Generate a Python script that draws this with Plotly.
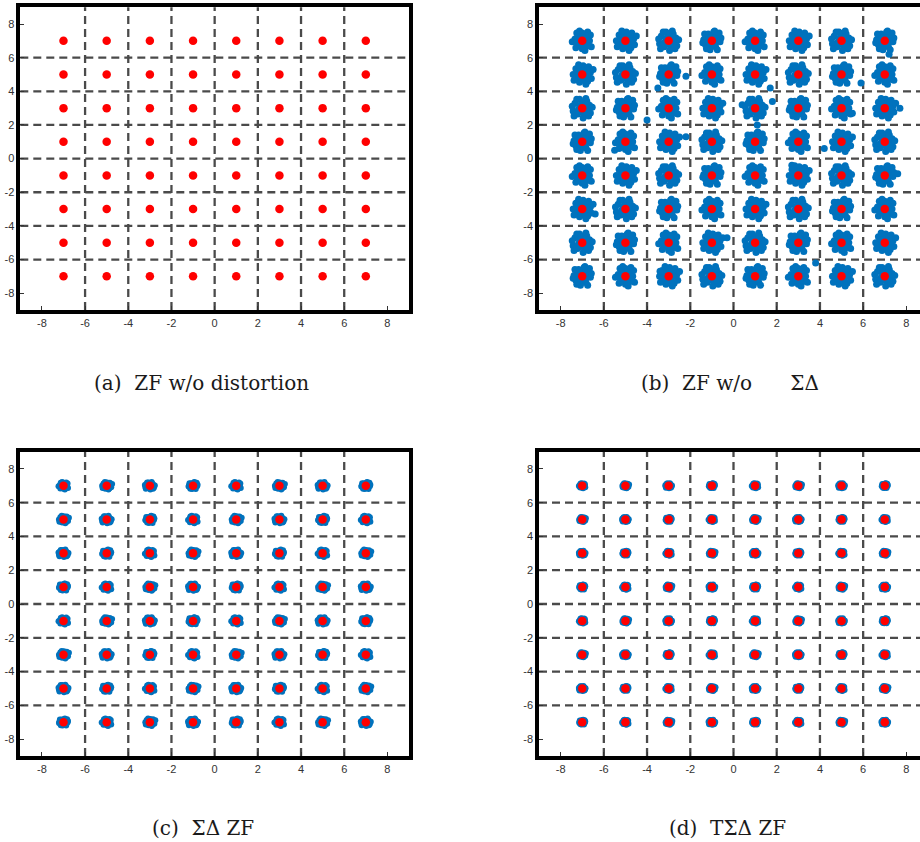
import plotly.graph_objects as go

# constellation levels (64-QAM)
levels = [-7, -5, -3, -1, 1, 3, 5, 7]
tick_vals = [-8, -6, -4, -2, 0, 2, 4, 6, 8]
tick_text = ["-8", "-6", "-4", "-2", "0", "2", "4", "6", "8"]
grid_vals = [-6, -4, -2, 0, 2, 4, 6]

NB = "\u00a0"
captions = ["(a)" + NB * 2 + "ZF w/o distortion",
            "(b)" + NB * 2 + "ZF w/o" + NB * 6 + "ΣΔ",
            "(c)" + NB * 2 + "ΣΔ ZF",
            "(d)" + NB * 2 + "TΣΔ ZF"]

# hand-read cloud shapes (normalised offsets around each symbol)
cloud_p0 = [(0, 0), (0.5, 0.1), (-0.5, 0.2), (0.1, 0.5), (-0.1, -0.5), (0.7, 0.5), (-0.7, -0.4),
            (0.4, -0.6), (-0.4, 0.7), (0.9, -0.1), (-0.9, 0.1), (0.2, 0.9), (-0.2, -0.9), (0.6, -0.9),
            (-0.8, 0.7), (0.8, 0.8), (-0.6, -0.8), (1.0, 0.3), (-1.0, -0.2), (0.3, 1.0),
            (-0.3, -0.2), (0.3, 0.3), (-0.3, 0.3), (0.3, -0.3)]
cloud_p1 = [(0.1, 0.1), (0.6, -0.1), (-0.4, -0.1), (0, 0.6), (0.2, -0.5), (0.8, 0.3), (-0.8, 0.5),
            (0.5, 0.7), (-0.5, -0.6), (0.9, -0.5), (-1.0, -0.3), (-0.3, 0.9), (0.1, -1.0), (1.1, 0.1),
            (-0.6, 0.9), (0.7, -0.8), (-0.9, -0.8), (0.4, 1.0), (-1.1, 0.2), (0.3, -0.3),
            (-0.2, 0.3), (0.4, 0.4), (-0.4, -0.4), (0.5, -0.4)]
cloud_p2 = [(-0.1, 0.1), (0.4, 0.3), (-0.6, -0.2), (0.3, -0.4), (-0.2, 0.6), (0.9, 0.2), (-0.7, 0.6),
            (0.6, -0.7), (-0.3, -0.8), (0.1, 0.9), (1.0, -0.4), (-1.0, 0.0), (0.7, 0.8), (-0.5, -0.5),
            (0.0, -0.6), (-0.9, -0.6), (0.4, -1.0), (-0.4, 1.0), (1.2, 0.5), (0.5, 0.5),
            (-0.5, 0.3), (0.2, 0.2), (-0.2, -0.3), (0.6, 0.0)]
cloud_p3 = [(0, -0.1), (0.5, 0.4), (-0.4, 0.4), (0.4, -0.3), (-0.5, -0.3), (0.8, 0.0), (-0.8, 0.2),
            (0.0, 0.8), (0.0, -0.8), (0.6, 0.9), (-0.7, -0.7), (1.0, -0.6), (-0.3, 1.0), (0.3, -1.0),
            (-1.1, -0.1), (0.9, 0.6), (-0.6, 0.8), (0.7, -0.5), (-0.2, -0.4), (0.2, 0.3),
            (-0.3, 0.1), (0.3, 0.6), (-0.6, -0.1), (0.2, -0.6)]
cloud_shapes = [cloud_p0, cloud_p1, cloud_p2, cloud_p3]

# spread of the blue cloud per panel, x and y (a has no cloud)
cloud_spread_x = [0.0, 0.42, 0.21, 0.14]
cloud_spread_y = [0.0, 0.58, 0.22, 0.15]

# stray points
outliers_b_x = [-5.5, -2.2, -3.5, -4.0, 1.7, 1.1, 5.5, 5.9, 7.2, 4.2, 2.7, -6.4, -3.4, -0.3, 3.8, 7.6,
                -2.2, 1.8, 0.4, 7.7]
outliers_b_y = [0.5, 1.3, 4.2, 2.3, 4.2, 2.0, 2.7, 4.5, 6.2, 0.6, -0.4, -3.3, -6.7, -4.7, -6.2, -0.9,
                4.9, 3.4, 3.2, 3.0]

fig = go.Figure()

W, H = 920, 842
panel_x = [(20.3, 409.0), (539.0, 920.0), (20.3, 409.0), (539.0, 920.0)]
panel_y = [(7.2, 310.0), (7.2, 310.0), (452.0, 756.0), (452.0, 756.0)]
x_ranges = [[-9, 9], [-9, 8.63], [-9, 9], [-9, 8.63]]
cap_pos = [(201, 383), (730, 383), (203, 828), (727, 828)]

for k in range(4):
    xa = "x" if k == 0 else f"x{k+1}"
    ya = "y" if k == 0 else f"y{k+1}"
    sx = cloud_spread_x[k]
    sy = cloud_spread_y[k]
    if sx > 0:
        cx, cy = [], []
        for i, lx in enumerate(levels):
            for j, ly in enumerate(levels):
                shp = cloud_shapes[(i * 3 + j) % 4]
                for dx, dy in shp:
                    cx.append(lx + sx * dx)
                    cy.append(ly + sy * dy)
        if k == 1:
            cx += outliers_b_x
            cy += outliers_b_y
        fig.add_trace(go.Scatter(x=cx, y=cy, mode="markers", xaxis=xa, yaxis=ya,
                                 marker=dict(color="#0072BD", size=7 if k == 1 else 6,
                                             line=dict(width=0)),
                                 hoverinfo="skip", showlegend=False))
    rx, ry = [], []
    for lx in levels:
        for ly in levels:
            rx.append(lx)
            ry.append(ly)
    fig.add_trace(go.Scatter(x=rx, y=ry, mode="markers", xaxis=xa, yaxis=ya,
                             marker=dict(color="#FF0000", size=8.5, line=dict(width=0)),
                             showlegend=False))

    axis_common = dict(showgrid=False, zeroline=False, showline=True, linewidth=3.5,
                       linecolor="black", ticks="inside", ticklen=4, tickwidth=1,
                       tickcolor="#333333", tickvals=tick_vals, ticktext=tick_text,
                       tickfont=dict(family="Liberation Sans, Arial", size=11, color="#333333"),
                       automargin=False, fixedrange=True)
    x0, x1 = panel_x[k]
    y0, y1 = panel_y[k]
    xkey = "xaxis" if k == 0 else f"xaxis{k+1}"
    ykey = "yaxis" if k == 0 else f"yaxis{k+1}"
    fig.update_layout(**{
        xkey: dict(axis_common, domain=[x0 / W, x1 / W], range=x_ranges[k], mirror=True,
                   anchor=ya),
        ykey: dict(axis_common, domain=[1 - y1 / H, 1 - y0 / H], range=[-9, 9],
                   mirror=(k in (0, 2)), anchor=xa),
    })
    for g in grid_vals:
        fig.add_shape(type="line", xref=xa, yref=f"{ya} domain", x0=g, x1=g, y0=0, y1=1,
                      line=dict(color="#4a4a4a", width=2.3, dash="8px,5px"), layer="below")
        fig.add_shape(type="line", xref=f"{xa} domain", yref=ya, x0=0, x1=1, y0=g, y1=g,
                      line=dict(color="#4a4a4a", width=2.3, dash="8px,5px"), layer="below")
    cxp, cyp = cap_pos[k]
    fig.add_annotation(text=captions[k], xref="paper", yref="paper", x=cxp / W, y=1 - cyp / H,
                       showarrow=False, xanchor="center", yanchor="middle",
                       font=dict(family="DejaVu Serif", size=20, color="#1a1a1a"))

fig.update_layout(width=W, height=H, margin=dict(l=0, r=0, t=0, b=0),
                  paper_bgcolor="white", plot_bgcolor="white", showlegend=False)

fig.write_html("out.html")
